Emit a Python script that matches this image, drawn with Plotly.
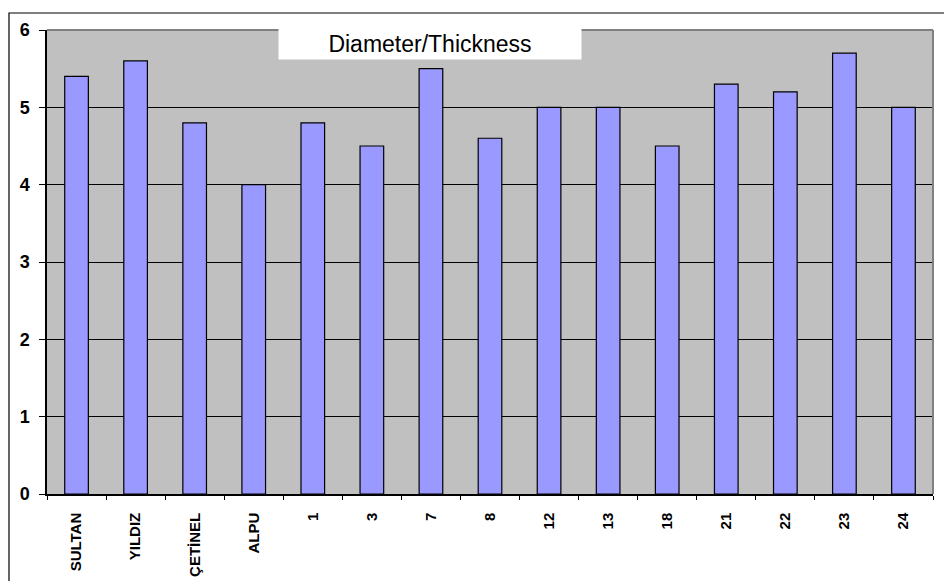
import plotly.graph_objects as go

categories = ["SULTAN", "YILDIZ", "ÇETİNEL", "ALPU", "1", "3", "7", "8", "12", "13", "18", "21", "22", "23", "24"]
values = [5.4, 5.6, 4.8, 4.0, 4.8, 4.5, 5.5, 4.6, 5.0, 5.0, 4.5, 5.3, 5.2, 5.7, 5.0]
y_ticks = [0, 1, 2, 3, 4, 5, 6]
title_text = "Diameter/Thickness"

FONT = "Liberation Sans, Arial, sans-serif"

fig = go.Figure(go.Bar(
    x=categories, y=values,
    marker=dict(color="#9999FF", line=dict(color="black", width=1.2)),
    width=0.4,
))

fig.update_layout(
    width=944, height=581,
    margin=dict(l=47, r=11, t=30, b=87),
    paper_bgcolor="white",
    plot_bgcolor="#C0C0C0",
    showlegend=False,
    font=dict(family=FONT, color="black"),
    xaxis=dict(
        type="category",
        tickangle=-90,
        tickvals=categories,
        ticktext=[f"<b>{c}</b>" for c in categories],
        tickfont=dict(size=15, family=FONT, color="black"),
        showline=True, linecolor="black", linewidth=1.5,
        ticks="outside", tickson="boundaries", ticklen=4, tickcolor="black",
        ticklabelstandoff=11,
        showgrid=False,
        automargin=False,
    ),
    yaxis=dict(
        range=[0, 6],
        tickvals=y_ticks,
        ticktext=[f"<b>{v}</b>" for v in y_ticks],
        tickfont=dict(size=18, family=FONT, color="black"),
        showline=True, linecolor="black", linewidth=1.5,
        ticks="outside", ticklen=6, tickcolor="black",
        showgrid=True, gridcolor="black", gridwidth=1,
        zeroline=False,
        ticklabelstandoff=6,
        automargin=False,
    ),
    shapes=[
        dict(type="line", xref="paper", yref="paper", x0=0, x1=1, y0=1, y1=1,
             line=dict(color="#808080", width=2)),
        dict(type="line", xref="paper", yref="paper", x0=1, x1=1, y0=0, y1=1,
             line=dict(color="#808080", width=2)),
        dict(type="rect", xref="paper", yref="paper", x0=-0.0429, x1=1.1, y0=-0.3, y1=1.0366,
             line=dict(color="black", width=1.2), fillcolor="rgba(0,0,0,0)"),
    ],
    annotations=[
        dict(text=title_text, xref="paper", yref="paper", x=0.432, y=0.971,
             xanchor="center", yanchor="middle", showarrow=False,
             width=300, height=29, bgcolor="white",
             font=dict(size=23, color="black", family=FONT)),
    ],
)

fig.write_html("out.html")
